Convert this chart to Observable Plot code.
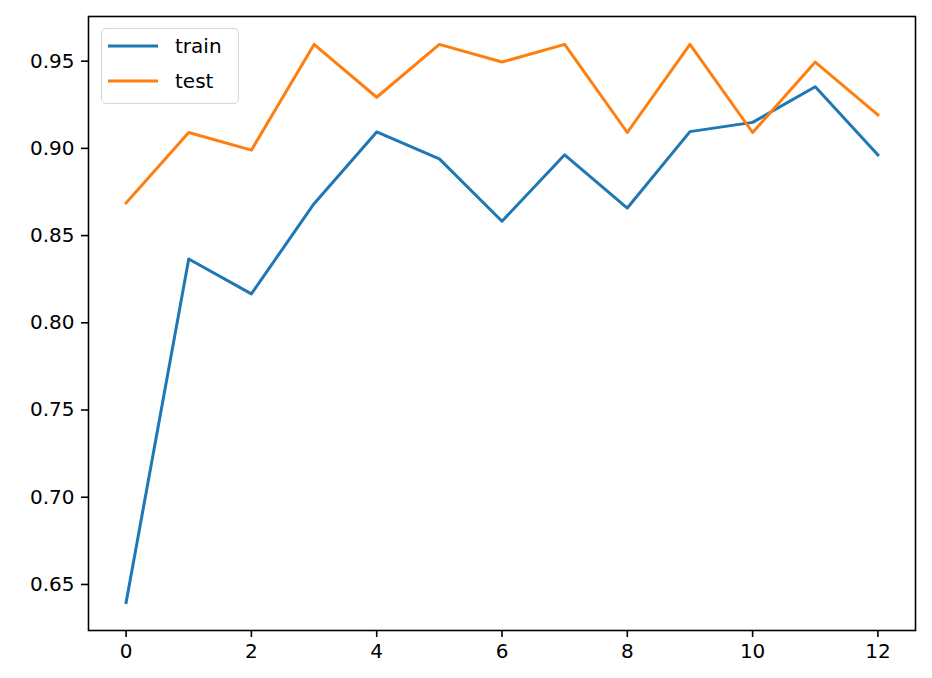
<!DOCTYPE html>
<html>
<head>
<meta charset="utf-8">
<script src="https://cdn.jsdelivr.net/npm/d3@7"></script>
<script src="https://cdn.jsdelivr.net/npm/@observablehq/plot@0.6"></script>
<style>
  html, body { margin: 0; padding: 0; background: #fff; }
  #wrap { position: relative; width: 932px; height: 678px; font-family: "DejaVu Sans", sans-serif; }
  #legend {
    position: absolute; left: 101px; top: 28px; width: 136px; height: 74px;
    border: 1.6px solid #d6d6d6; border-radius: 5px; background: rgba(255,255,255,0.8);
    font-size: 20px; color: #000;
  }
  .item { position: absolute; left: 6px; display: flex; align-items: center; height: 30px; }
  .item svg { width: 50px; height: 6px; margin-right: 17px; }
</style>
</head>
<body>
<div id="wrap"><div id="chart"></div><div id="legend"></div></div>
<script>
const epochs = [0, 1, 2, 3, 4, 5, 6, 7, 8, 9, 10, 11, 12];
const trainAcc = [0.6396, 0.8366, 0.8166, 0.8683, 0.9094, 0.8940, 0.8582, 0.8963, 0.8658, 0.9096, 0.9149, 0.9353, 0.8963];
const testAcc = [0.8687, 0.9091, 0.8990, 0.9596, 0.9293, 0.9596, 0.9495, 0.9596, 0.9091, 0.9596, 0.9091, 0.9495, 0.9192];
const seriesNames = ["train", "test"];
const seriesColors = ["#1f77b4", "#ff7f0e"];
const xTicks = [0, 2, 4, 6, 8, 10, 12];
const yTicks = [0.65, 0.70, 0.75, 0.80, 0.85, 0.90, 0.95];

const data = [];
epochs.forEach((e, i) => {
  data.push({epoch: e, acc: trainAcc[i], series: "train"});
});
epochs.forEach((e, i) => {
  data.push({epoch: e, acc: testAcc[i], series: "test"});
});

const allVals = trainAcc.concat(testAcc);
const yMin = d3.min(allVals), yMax = d3.max(allVals);
const yPad = (yMax - yMin) * 0.05;
const xPad = (d3.max(epochs) - d3.min(epochs)) * 0.05;

const chart = Plot.plot({
  width: 932,
  height: 678,
  marginLeft: 88,
  marginRight: 17,
  marginTop: 16,
  marginBottom: 48,
  style: {fontFamily: "DejaVu Sans, sans-serif", fontSize: "20px", color: "#000", background: "#fff"},
  x: {domain: [d3.min(epochs) - xPad, d3.max(epochs) + xPad], label: null},
  y: {domain: [yMin - yPad, yMax + yPad], label: null},
  color: {domain: seriesNames, range: seriesColors},
  marks: [
    Plot.axisX({ticks: xTicks, tickFormat: d3.format("d"), tickSize: 7, tickPadding: 6, fontSize: 20, strokeWidth: 1.6, label: null}),
    Plot.axisY({ticks: yTicks, tickFormat: d3.format(".2f"), tickSize: 7, tickPadding: 7, fontSize: 20, strokeWidth: 1.6, label: null}),
    Plot.line(data, {x: "epoch", y: "acc", z: "series", stroke: "series", strokeWidth: 3, strokeLinejoin: "round", strokeLinecap: "square"}),
    Plot.frame({stroke: "#000", strokeWidth: 1.6})
  ]
});
document.getElementById("chart").appendChild(chart);

const legend = document.getElementById("legend");
seriesNames.forEach((name, i) => {
  const item = document.createElement("div");
  item.className = "item";
  item.style.top = (2 + i * 35) + "px";
  item.innerHTML = `<svg viewBox="0 0 50 6"><line x1="0" y1="3" x2="50" y2="3" stroke="${seriesColors[i]}" stroke-width="3"/></svg><span>${name}</span>`;
  legend.appendChild(item);
});
</script>
</body>
</html>
